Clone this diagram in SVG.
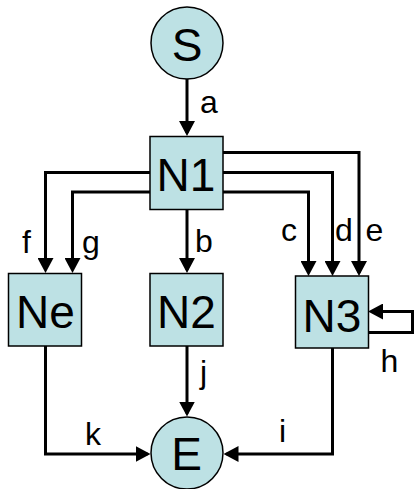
<svg xmlns="http://www.w3.org/2000/svg" width="414" height="489" viewBox="0 0 414 489">
<style>
.shape{fill:#BDE1E4;stroke:#000;stroke-width:1.5}
.ntext{font-family:"Liberation Sans",Arial,sans-serif;font-size:46px;fill:#000;text-anchor:middle}
.lbl{font-family:"Liberation Sans",Arial,sans-serif;font-size:32px;fill:#000}
.edge{fill:none;stroke:#000;stroke-width:3;stroke-linejoin:miter;marker-end:url(#arr)}
</style>
<defs>
<marker id="arr" viewBox="0 0 15 16" refX="12" refY="8" markerWidth="15" markerHeight="16" markerUnits="userSpaceOnUse" orient="auto">
<path d="M0,0 L15,8 L0,16 z" fill="#000"/>
</marker>
</defs>
<rect width="414" height="489" fill="#fff"/>
<g id="connectors">
<path id="e-a" class="edge" d="M187,79 V133"/>
<path id="e-b" class="edge" d="M187,209 V270"/>
<path id="e-f" class="edge" d="M150,172.5 H45.5 V270"/>
<path id="e-g" class="edge" d="M150,192 H72.5 V270"/>
<path id="e-c" class="edge" d="M223,192 H308.5 V273"/>
<path id="e-d" class="edge" d="M223,172.5 H332.5 V273"/>
<path id="e-e" class="edge" d="M223,152.5 H359 V273"/>
<path id="e-h" class="edge" d="M368,332.5 H412.5 V311.5 H371"/>
<path id="e-j" class="edge" d="M187,346 V413.5"/>
<path id="e-k" class="edge" d="M45.5,346 V454 H147.5"/>
<path id="e-i" class="edge" d="M332.5,348 V454 H226.5"/>
</g>
<g id="labels">
<text class="lbl" x="200" y="113">a</text>
<text class="lbl" x="22" y="252.5">f</text>
<text class="lbl" x="82" y="252.5">g</text>
<text class="lbl" x="195" y="252">b</text>
<text class="lbl" x="281" y="240.5">c</text>
<text class="lbl" x="335" y="240.5">d</text>
<text class="lbl" x="365.5" y="240.5">e</text>
<text class="lbl" x="380.5" y="371.5">h</text>
<text class="lbl" x="203.5" y="383" text-anchor="middle">j</text>
<text class="lbl" x="85" y="445">k</text>
<text class="lbl" x="282.5" y="442" text-anchor="middle">i</text>
</g>
<g id="S"><circle class="shape" cx="187" cy="43" r="36"/><text class="ntext" x="187" y="61">S</text></g>
<g id="N1"><rect class="shape" x="150" y="136.5" width="73" height="73"/><text class="ntext" x="186" y="190.5">N1</text></g>
<g id="Ne"><rect class="shape" x="8.5" y="273.5" width="73" height="72.5"/><text class="ntext" x="45.5" y="327.5">Ne</text></g>
<g id="N2"><rect class="shape" x="150" y="273.5" width="73" height="72.5"/><text class="ntext" x="186.5" y="327.5">N2</text></g>
<g id="N3"><rect class="shape" x="295.5" y="276" width="73" height="72"/><text class="ntext" x="332" y="331.5">N3</text></g>
<g id="E"><circle class="shape" cx="187" cy="453" r="36"/><text class="ntext" x="186.5" y="470">E</text></g>
</svg>
